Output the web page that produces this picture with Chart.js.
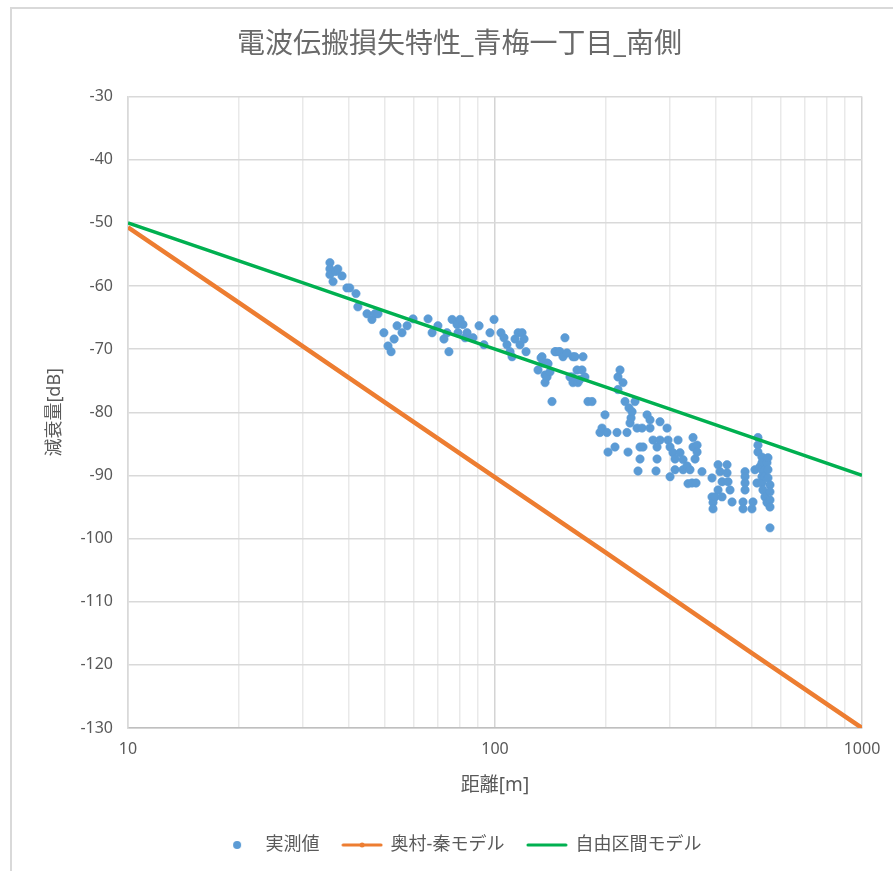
<!DOCTYPE html>
<html lang="ja">
<head>
<meta charset="utf-8">
<title>電波伝搬損失特性_青梅一丁目_南側</title>
<script src="https://cdn.jsdelivr.net/npm/chart.js@4.4.1/dist/chart.umd.min.js"></script>
<style>
  html, body { margin: 0; padding: 0; background: #fff; }
  #wrap { position: relative; width: 893px; height: 871px; overflow: hidden; }
  #frame { position: absolute; left: 10px; top: 7px; width: 1000px; height: 1000px;
           border-left: 2px solid #d9d9d9; border-top: 2px solid #d9d9d9; }
  #lossChart { position: absolute; left: 0; top: 0; }
</style>
</head>
<body>
<div id="wrap">
  <div id="frame"></div>
  <canvas id="lossChart" width="893" height="871"></canvas>
</div>
<script>
// 実測値 : distance [m] / loss [dB]
var measDist = [
    35.5, 35.5, 35.5, 36.2, 36.8, 37.3, 38.3, 39.5, 40.2, 41.8,
    42.3, 44.8, 46.2, 47.1, 48.0, 49.8, 51.1, 52.1, 53.1, 54.1,
    55.8, 57.6, 59.8, 65.7, 67.4, 69.9, 72.6, 74.0, 74.9, 76.4,
    78.8, 79.3, 80.3, 81.8, 82.9, 83.9, 87.1, 90.5, 93.3, 96.9,
    99.4, 103.8, 105.8, 107.8, 109.9, 111.3, 113.4, 115.6, 117.0, 118.5,
    120.0, 121.5, 131.0, 133.5, 134.3, 135.2, 136.9, 136.9, 138.6, 138.6,
    139.5, 141.2, 143.0, 145.7, 146.6, 149.4, 150.3, 153.2, 155.1, 157.1,
    160.1, 162.1, 163.1, 163.1, 165.2, 167.3, 168.3, 170.4, 172.6, 173.7,
    175.8, 179.2, 183.8, 193.2, 195.7, 199.4, 201.9, 203.2, 212.3, 215.0,
    216.3, 216.3, 219.1, 223.2, 226.1, 228.9, 230.4, 231.8, 233.3, 234.8,
    236.3, 240.7, 243.8, 245.3, 248.4, 248.4, 251.6, 253.1, 259.6, 264.5,
    264.5, 269.5, 274.6, 276.4, 276.4, 281.6, 281.6, 294.3, 296.1, 299.9,
    299.9, 305.5, 309.4, 309.4, 315.3, 319.3, 325.4, 325.4, 333.6, 335.7,
    339.9, 344.2, 346.4, 346.4, 350.8, 353.0, 355.3, 355.3, 366.4, 390.2,
    390.2, 392.7, 392.7, 397.7, 405.3, 405.3, 410.4, 415.6, 415.6, 428.8,
    428.8, 431.5, 436.9, 442.5, 474.1, 474.1, 480.1, 480.1, 480.1, 480.1,
    501.4, 504.6, 510.9, 517.4, 520.6, 520.6, 520.6, 527.2, 533.9, 533.9,
    533.9, 533.9, 533.9, 537.2, 544.0, 544.0, 544.0, 550.9, 550.9, 554.4,
    554.4, 554.4, 561.4, 561.4, 561.4, 561.4, 561.4
];
var measLoss = [
    -56.3, -57.3, -58.2, -59.3, -57.7, -57.3, -58.4, -60.3, -60.3, -61.2,
    -63.3, -64.4, -65.3, -64.4, -64.4, -67.4, -69.5, -70.4, -68.4, -66.3,
    -67.4, -66.3, -65.2, -65.2, -67.4, -66.3, -68.4, -67.4, -70.4, -65.3,
    -66.1, -67.4, -65.3, -66.1, -68.2, -67.4, -68.2, -66.3, -69.3, -67.4,
    -65.3, -67.4, -68.2, -69.3, -70.4, -71.2, -68.4, -67.4, -69.3, -67.4,
    -68.4, -70.4, -73.3, -71.4, -71.2, -72.2, -74.1, -75.3, -72.2, -74.4,
    -72.3, -73.6, -78.3, -70.4, -70.4, -70.4, -70.4, -71.2, -68.2, -70.6,
    -74.4, -74.4, -71.2, -75.3, -71.2, -73.3, -75.3, -74.8, -73.3, -71.2,
    -74.4, -78.3, -78.3, -83.2, -82.5, -80.4, -83.2, -86.3, -85.5, -83.2,
    -74.4, -76.4, -73.3, -75.3, -78.3, -83.2, -86.3, -79.3, -81.7, -80.9,
    -79.9, -78.3, -82.5, -89.3, -85.5, -87.4, -82.5, -85.5, -80.4, -81.2,
    -82.5, -84.4, -89.3, -85.5, -87.4, -81.5, -84.4, -82.5, -84.4, -85.5,
    -90.2, -86.4, -87.4, -89.1, -84.4, -86.4, -87.5, -89.1, -88.5, -91.3,
    -89.1, -91.2, -84.0, -85.5, -87.4, -91.2, -85.2, -86.3, -89.4, -90.4,
    -93.4, -94.3, -95.3, -93.4, -88.3, -92.3, -89.4, -91.0, -93.4, -88.3,
    -89.6, -91.0, -92.3, -94.2, -94.2, -95.3, -89.4, -90.2, -91.2, -92.3,
    -95.3, -94.2, -89.1, -91.2, -84.0, -85.2, -86.3, -88.6, -87.1, -88.0,
    -89.1, -90.2, -91.2, -92.3, -93.4, -89.1, -90.2, -88.0, -94.3, -87.2,
    -89.1, -90.4, -91.5, -92.6, -93.9, -95.0, -98.3
];

// 奥村-秦モデル
var hataDist = [10, 20, 50, 100, 200, 500, 1000];
var hataLoss = [-50.7, -62.6, -78.4, -90.3, -102.2, -118.1, -130.0];

// 自由区間モデル
var freeDist = [10, 30, 100, 300, 1000];
var freeLoss = [-50.0, -59.5, -70.0, -79.5, -90.0];

// x grid lines (log) and y range
var xTicks = [10, 20, 30, 40, 50, 60, 70, 80, 90, 100, 200, 300, 400, 500, 600, 700, 800, 900, 1000];
var yMin = -130, yMax = -30, yStep = 10;

const textColor = '#595959';
const fontStack = "'Noto Sans', 'Noto Sans CJK JP', sans-serif";

Chart.defaults.font.family = fontStack;
Chart.defaults.color = textColor;

function isDecade(v) {
    let l = Math.log10(v);
    return Math.abs(l - Math.round(l)) < 1e-9;
}

function toPoints(xs, ys) {
    return xs.map((x, i) => ({ x: x, y: ys[i] }));
}

// small pictures for the legend keys
function legendMark(kind, color) {
    let c = document.createElement('canvas');
    c.width = 42;
    c.height = 10;
    let g = c.getContext('2d');
    g.fillStyle = color;
    g.strokeStyle = color;
    if (kind === 'dot') {
        g.beginPath();
        g.arc(21, 5, 4, 0, Math.PI * 2);
        g.fill();
    } else {
        g.lineWidth = 3;
        g.lineCap = 'round';
        g.beginPath();
        g.moveTo(2, 5);
        g.lineTo(40, 5);
        g.stroke();
        if (kind === 'lineDot') {
            g.beginPath();
            g.arc(21, 5, 2.5, 0, Math.PI * 2);
            g.fill();
        }
    }
    return c;
}

const marks = [
    legendMark('dot', '#5b9bd5'),
    legendMark('lineDot', '#ed7d31'),
    legendMark('line', '#00b050')
];

var lossChart = new Chart(
    document.getElementById('lossChart'),
    {
        type: 'scatter',
        data: {
            datasets: [
                {
                    label: '実測値',
                    data: toPoints(measDist, measLoss),
                    backgroundColor: '#5b9bd5',
                    borderColor: '#5b9bd5',
                    pointRadius: 4.2,
                    pointBorderWidth: 0.6,
                    showLine: false,
                    order: 3
                },
                {
                    label: '奥村-秦モデル',
                    data: toPoints(hataDist, hataLoss),
                    backgroundColor: '#ed7d31',
                    borderColor: '#ed7d31',
                    borderWidth: 4.5,
                    pointRadius: 0,
                    showLine: true,
                    order: 2
                },
                {
                    label: '自由区間モデル',
                    data: toPoints(freeDist, freeLoss),
                    backgroundColor: '#00b050',
                    borderColor: '#00b050',
                    borderWidth: 3.5,
                    pointRadius: 0,
                    showLine: true,
                    order: 1
                }
            ]
        },
        options: {
            responsive: false,
            animation: false,
            layout: {
                padding: { left: 26, right: 0, top: 0, bottom: 7 }
            },
            plugins: {
                title: {
                    display: true,
                    text: '電波伝搬損失特性_青梅一丁目_南側',
                    color: '#6a6a6a',
                    font: { size: 28, weight: 'normal' },
                    padding: { top: 28, bottom: 35 }
                },
                legend: {
                    position: 'bottom',
                    labels: {
                        usePointStyle: true,
                        pointStyleWidth: 39,
                        padding: 23,
                        color: textColor,
                        font: { size: 18 },
                        generateLabels: function (chart) {
                            return chart.data.datasets.map((ds, i) => ({
                                text: ds.label,
                                fillStyle: ds.backgroundColor,
                                strokeStyle: ds.borderColor,
                                lineWidth: 0,
                                pointStyle: marks[i],
                                fontColor: textColor,
                                hidden: false,
                                datasetIndex: i
                            }));
                        }
                    }
                },
                tooltip: { enabled: false }
            },
            scales: {
                x: {
                    type: 'logarithmic',
                    min: 10,
                    max: 1000,
                    afterBuildTicks: function (scale) {
                        scale.ticks = xTicks.map(v => ({ value: v }));
                    },
                    afterFit: function (scale) {
                        scale.height = 85;
                        scale.paddingRight = 31;
                    },
                    grid: {
                        drawTicks: false,
                        lineWidth: 1.5,
                        color: function (ctx) {
                            if (!ctx.tick) return '#d9d9d9';
                            return isDecade(ctx.tick.value) ? '#d4d4d4' : '#e9e9e9';
                        }
                    },
                    border: { color: '#bfbfbf', width: 1.5 },
                    ticks: {
                        padding: 12,
                        autoSkip: false,
                        maxRotation: 0,
                        color: textColor,
                        font: { size: 16 },
                        callback: function (v) {
                            return isDecade(v) ? String(v) : '';
                        }
                    },
                    title: {
                        display: true,
                        text: '距離[m]',
                        color: textColor,
                        font: { size: 19 },
                        padding: { top: 0, bottom: 16 }
                    }
                },
                y: {
                    min: yMin,
                    max: yMax,
                    afterFit: function (scale) {
                        scale.width = 102;
                    },
                    grid: {
                        drawTicks: false,
                        color: '#d9d9d9',
                        lineWidth: 1.5
                    },
                    border: { color: '#d9d9d9', width: 1.5 },
                    ticks: {
                        stepSize: yStep,
                        padding: 15,
                        color: textColor,
                        font: { size: 16 },
                        callback: function (v) {
                            return String(v);
                        }
                    },
                    title: {
                        display: true,
                        text: '減衰量[dB]',
                        color: textColor,
                        font: { size: 18 },
                        padding: { top: 18, bottom: 0 }
                    }
                }
            }
        }
    }
);
</script>
</body>
</html>
